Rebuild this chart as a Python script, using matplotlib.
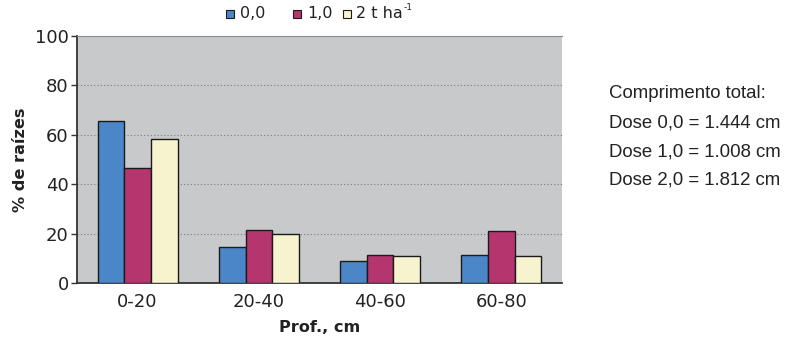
import matplotlib
matplotlib.use("Agg")
import matplotlib.pyplot as plt
import numpy as np
from matplotlib.patches import Rectangle

categories = ["0-20", "20-40", "40-60", "60-80"]
dose_00 = [65.6, 14.7, 8.9, 11.5]
dose_10 = [46.6, 21.6, 11.5, 21.1]
dose_20 = [58.3, 20.0, 10.9, 10.9]
series_labels = ["0,0", "1,0", "2 t ha"]
unit_superscript = "-1"
colors = ["#4a86c8", "#b5366f", "#f8f3cf"]
yticks = [0, 20, 40, 60, 80, 100]
side_text = ["Comprimento total:", "Dose 0,0 = 1.444 cm",
             "Dose 1,0 = 1.008 cm", "Dose 2,0 = 1.812 cm"]

plt.rcParams["font.family"] = ["DejaVu Sans"]

W, H = 788, 339
fig = plt.figure(figsize=(W / 100, H / 100), dpi=100)
ax = fig.add_axes([77 / W, 1 - 283 / H, 485 / W, 247 / H])
ax.set_facecolor("#c8c9cb")

x = np.arange(len(categories))
w = 0.22
for i, (vals, col) in enumerate(zip([dose_00, dose_10, dose_20], colors)):
    ax.bar(x + (i - 1) * w, vals, w, color=col, edgecolor="#1a1a1a",
           linewidth=1.0, zorder=3)

ax.set_xlim(-0.5, 3.5)
ax.set_ylim(0, 100)
ax.set_yticks(yticks)
ax.set_xticks(x)
ax.set_xticklabels(categories)
ax.tick_params(axis="x", length=0, labelsize=13, pad=7, labelcolor="#222222")
ax.tick_params(axis="y", length=4, width=1, labelsize=13, pad=2,
               color="#333333", labelcolor="#222222")

for g in [20, 40, 60, 80]:
    ax.axhline(g, color="#7a7a7a", linestyle=(0, (1, 2)), linewidth=0.8, zorder=1)

for side in ("left", "bottom"):
    ax.spines[side].set_color("#333333")
    ax.spines[side].set_linewidth(1.3)
ax.spines["top"].set_color("#8a8a8a")
ax.spines["top"].set_linewidth(0.8)
ax.spines["right"].set_visible(False)

ax.set_ylabel("% de raízes", fontsize=11.6, fontweight="bold", labelpad=5,
              color="#222222")
ax.set_xlabel("Prof., cm", fontsize=11.6, fontweight="bold", labelpad=7,
              color="#222222")

# legend row above the plot
legend_items = [(226, 240), (293, 307), (343, 356)]
for (sq_x, tx_x), col, lab in zip(legend_items, colors, series_labels):
    fig.patches.append(Rectangle((sq_x / W, 1 - 18 / H), 8 / W, 8 / H,
                                 transform=fig.transFigure, facecolor=col,
                                 edgecolor="#1a1a1a", linewidth=0.8))
    t = fig.text(tx_x / W, 1 - 14 / H, lab, fontsize=11.5, color="#222222",
                 va="center", ha="left")
fig.canvas.draw()
bb = t.get_window_extent()
fig.text((bb.x1 + 1) / W, 1 - 8 / H, unit_superscript, fontsize=6.5,
         color="#222222", va="center", ha="left")

for k, line in enumerate(side_text):
    fig.text(609 / W, 1 - (94 + k * 28.8) / H, line, fontsize=13.4,
             family="Liberation Sans", color="#222222", va="center", ha="left")

fig.savefig("out.png", dpi=100)
